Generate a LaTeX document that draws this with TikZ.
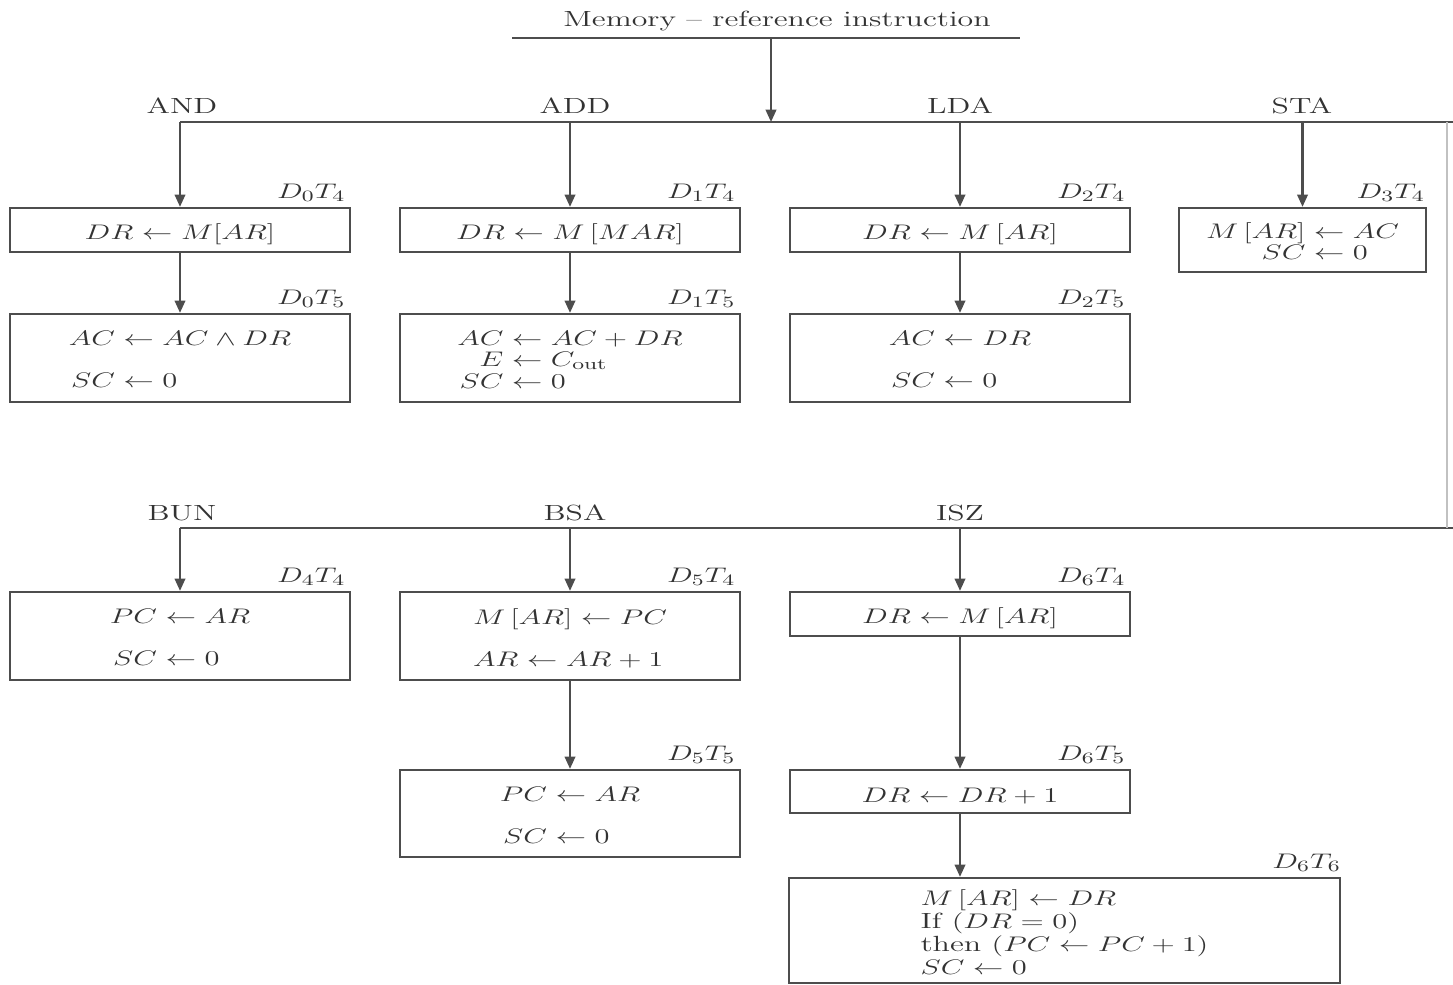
\documentclass[tikz,border=0pt]{standalone}
\usepackage{graphicx}
\usetikzlibrary{arrows.meta}

\definecolor{ink}{HTML}{333333}
\definecolor{wire}{HTML}{4D4D4D}

% wide, book-style lettering
\newcommand\stretchx[1]{\scalebox{1.45}[1]{#1}}
% the same, set a little lower inside a box
\newcommand\boxtxt[1]{\raisebox{-2.5pt}[\height][\depth]{\stretchx{#1}}}

\begin{document}
\begin{tikzpicture}[x=0.02cm, y=-0.02cm,
  every node/.style={text=ink, font=\fontsize{12.5}{12.2}\selectfont, inner sep=0pt},
  wireline/.style={draw=wire, line width=1.2pt},
  arr/.style={wireline, -{Triangle[length=7pt,width=6pt]}},
  blk/.style 2 args={draw=wire, line width=1.3pt,
    minimum width=#1*0.02cm, minimum height=#2*0.02cm},
  oplbl/.style={anchor=base},
  tlbl/.style={anchor=south east},
]
\path[use as bounding box] (0,0) rectangle (1453,984);

% ---- heading and decoder buses ----
\node[anchor=base] (title) at (777,26) {\stretchx{Memory -- reference instruction}};
\coordinate (ulL) at (512,38);
\coordinate (ulR) at (1020,38);
\draw[wireline] (ulL) -- (ulR);
\coordinate (hub) at (771,38);
\coordinate (busA) at (0,122);
\coordinate (busB) at (0,528);
\coordinate (eastA) at (1453,122);
\coordinate (eastB) at (1453,528);
\coordinate (rimA) at (1447,122);
\coordinate (rimB) at (1447,528);

% ---- first row: AND, ADD, LDA, STA ----
\node[blk={340}{44}] (a1) at (180,230) {\boxtxt{$DR \leftarrow M[AR]$}};
\node[blk={340}{88}] (a2) at (180,358) {\boxtxt{\begin{tabular}{@{}r@{}l@{}}
  $AC$ & ${}\leftarrow AC \wedge DR$\\[11.7pt]
  $SC$ & ${}\leftarrow 0$\end{tabular}}};

\node[blk={340}{44}] (b1) at (570,230) {\boxtxt{$DR \leftarrow M\,[MAR]$}};
\node[blk={340}{88}] (b2) at (570,358) {\boxtxt{\begin{tabular}{@{}r@{}l@{}}
  $AC$ & ${}\leftarrow AC + DR$\\
  $E$ & ${}\leftarrow C_{\mathrm{out}}$\\
  $SC$ & ${}\leftarrow 0$\end{tabular}}};

\node[blk={340}{44}] (c1) at (960,230) {\boxtxt{$DR \leftarrow M\,[AR]$}};
\node[blk={340}{88}] (c2) at (960,358) {\boxtxt{\begin{tabular}{@{}r@{}l@{}}
  $AC$ & ${}\leftarrow DR$\\[11.7pt]
  $SC$ & ${}\leftarrow 0$\end{tabular}}};

\node[blk={247}{64}] (d1) at (1302.5,240) {\boxtxt{\begin{tabular}{@{}r@{}l@{}}
  $M\,[AR]$ & ${}\leftarrow AC$\\
  $SC$ & ${}\leftarrow 0$\end{tabular}}};

% ---- second row: BUN, BSA, ISZ ----
\node[blk={340}{88}] (e1) at (180,636) {\boxtxt{\begin{tabular}{@{}r@{}l@{}}
  $PC$ & ${}\leftarrow AR$\\[11.7pt]
  $SC$ & ${}\leftarrow 0$\end{tabular}}};

\node[blk={340}{88}] (f1) at (570,636) {\boxtxt{\begin{tabular}{@{}l@{}}
  $M\,[AR] \leftarrow PC$\\[11.7pt]
  $AR \leftarrow AR + 1$\end{tabular}}};
\node[blk={340}{87}] (f2) at (570,813.5) {\boxtxt{\begin{tabular}{@{}r@{}l@{}}
  $PC$ & ${}\leftarrow AR$\\[11.7pt]
  $SC$ & ${}\leftarrow 0$\end{tabular}}};

\node[blk={340}{44}] (g1) at (960,614) {\boxtxt{$DR \leftarrow M\,[AR]$}};
\node[blk={340}{43}] (g2) at (960,791.5) {\boxtxt{$DR \leftarrow DR + 1$}};
\node[blk={551}{105}] (g3) at (1064.5,930.5) {\boxtxt{\begin{tabular}{@{}l@{}}
  $M\,[AR] \leftarrow DR$\\[0.6pt]
  If $(DR = 0)$\\[0.6pt]
  then $(PC \leftarrow PC + 1)$\\[0.6pt]
  $SC \leftarrow 0$\end{tabular}}};

% ---- instruction names on the buses ----
\node[oplbl] (opAND) at (182,113) {\stretchx{AND}};
\node[oplbl] (opADD) at (575,113) {\stretchx{ADD}};
\node[oplbl] (opLDA) at (960,113) {\stretchx{LDA}};
\node[oplbl] (opSTA) at (1302,113) {\stretchx{STA}};
\node[oplbl] (opBUN) at (182,520) {\stretchx{BUN}};
\node[oplbl] (opBSA) at (575,520) {\stretchx{BSA}};
\node[oplbl] (opISZ) at (960,520) {\stretchx{ISZ}};

% ---- timing conditions ----
\node[tlbl] (a1t) at ([xshift=-3pt,yshift=3pt]a1.north east) {\stretchx{$D_0T_4$}};
\node[tlbl] (a2t) at ([xshift=-3pt,yshift=3pt]a2.north east) {\stretchx{$D_0T_5$}};
\node[tlbl] (b1t) at ([xshift=-3pt,yshift=3pt]b1.north east) {\stretchx{$D_1T_4$}};
\node[tlbl] (b2t) at ([xshift=-3pt,yshift=3pt]b2.north east) {\stretchx{$D_1T_5$}};
\node[tlbl] (c1t) at ([xshift=-3pt,yshift=3pt]c1.north east) {\stretchx{$D_2T_4$}};
\node[tlbl] (c2t) at ([xshift=-3pt,yshift=3pt]c2.north east) {\stretchx{$D_2T_5$}};
\node[tlbl] (d1t) at ([xshift=-1pt,yshift=3pt]d1.north east) {\stretchx{$D_3T_4$}};
\node[tlbl] (e1t) at ([xshift=-3pt,yshift=3pt]e1.north east) {\stretchx{$D_4T_4$}};
\node[tlbl] (f1t) at ([xshift=-3pt,yshift=3pt]f1.north east) {\stretchx{$D_5T_4$}};
\node[tlbl] (f2t) at ([xshift=-3pt,yshift=3pt]f2.north east) {\stretchx{$D_5T_5$}};
\node[tlbl] (g1t) at ([xshift=-3pt,yshift=3pt]g1.north east) {\stretchx{$D_6T_4$}};
\node[tlbl] (g2t) at ([xshift=-3pt,yshift=3pt]g2.north east) {\stretchx{$D_6T_5$}};
\node[tlbl] (g3t) at ([xshift=0pt,yshift=3pt]g3.north east) {\stretchx{$D_6T_6$}};

% ---- buses ----
\draw[arr] (hub) -- (hub |- busA);
\draw[wireline] (a1.north |- busA) -- (eastA);
\draw[wireline] (e1.north |- busB) -- (eastB);
\draw[draw=wire!35, line width=1pt] (rimA) -- (rimB);

% ---- control flow ----
\draw[arr] (a1.north |- busA) -- (a1.north);
\draw[arr] (b1.north |- busA) -- (b1.north);
\draw[arr] (c1.north |- busA) -- (c1.north);
\draw[arr] (d1.north |- busA) -- (d1.north);
\draw[arr] (a1) -- (a2);
\draw[arr] (b1) -- (b2);
\draw[arr] (c1) -- (c2);

\draw[arr] (e1.north |- busB) -- (e1.north);
\draw[arr] (f1.north |- busB) -- (f1.north);
\draw[arr] (g1.north |- busB) -- (g1.north);
\draw[arr] (f1) -- (f2);
\draw[arr] (g1) -- (g2);
\draw[arr] (g2.south) -- (g2.south |- g3.north);
\end{tikzpicture}
\end{document}
